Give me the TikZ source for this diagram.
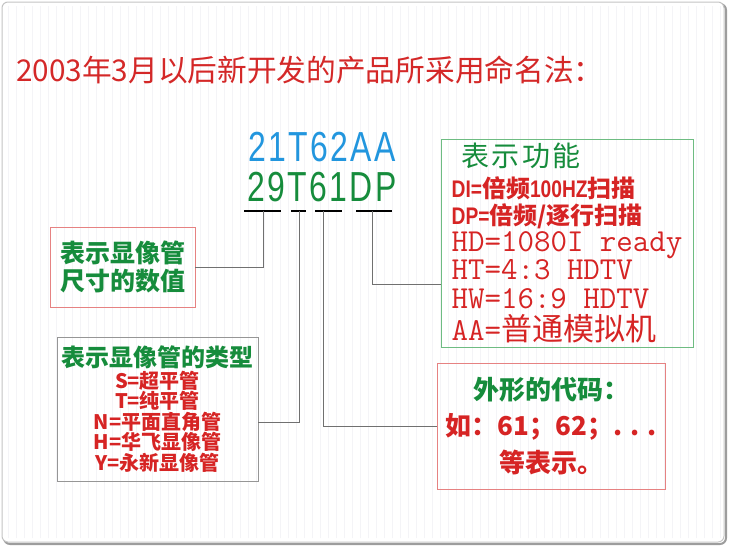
\documentclass[tikz,border=0pt]{standalone}
\usepackage{fontspec}
\setmainfont{Noto Sans CJK SC}
\newfontfamily\titlefont{Noto Sans CJK SC}[FakeStretch=0.99]
\newfontfamily\widefont{Noto Sans CJK SC}[LetterSpace=8]
\newfontfamily\codefont{Liberation Sans}[FakeStretch=0.76,LetterSpace=5.5]
\newfontfamily\narrowfont{Liberation Sans}[FakeStretch=0.8]
\definecolor{ctitle}{RGB}{212,40,40}
\definecolor{cred}{RGB}{214,36,36}
\definecolor{cgreen}{RGB}{22,140,60}
\definecolor{cblue}{RGB}{34,150,222}
\definecolor{cpink}{RGB}{230,130,130}
\definecolor{cframe}{RGB}{196,196,196}
\definecolor{cgrid}{RGB}{244,244,247}
\begin{document}
\begin{tikzpicture}[x=1pt,y=-1pt,
	link/.style={draw={rgb,255:red,112;green,112;blue,112},line width=1pt},
	uline/.style={line width=2pt,black},
	code/.style={inner sep=0pt,font=\codefont\fontsize{42}{42}\selectfont},
	sizebox/.style={draw=cpink,line width=.9pt,minimum width=145pt,minimum height=80pt,inner sep=0pt,align=center,text=cgreen,font=\bfseries\fontsize{25}{28}\selectfont},
	typebox/.style={draw={rgb,255:red,150;green,150;blue,150},line width=.9pt,minimum width=201pt,minimum height=144pt,inner sep=0pt,align=center,text=cred,font=\bfseries\fontsize{20}{20.5}\selectfont},
	funcbox/.style={draw={rgb,255:red,110;green,188;blue,130},line width=.9pt,minimum width=252pt,minimum height=208pt,inner sep=0pt,align=left,text=cred,font=\fontsize{24}{28}\selectfont},
	shapebox/.style={draw=cpink,line width=.9pt,minimum width=228pt,minimum height=126pt,inner sep=0pt,align=center,text=cred,font=\bfseries\fontsize{26}{36.5}\selectfont}]
	\useasboundingbox (0,0) rectangle (730,547);
	\draw[rounded corners=6pt,line width=2pt,cframe!80!black] (4,4) rectangle (726,544);
	\draw[rounded corners=6pt,line width=1pt,cframe,fill=white] (2,2) rectangle (724,542);
	\draw[step=8,cgrid,line width=.4pt] (6,6) grid (720,538);
	\node[anchor=west,inner sep=0pt,text=ctitle,font=\titlefont\fontsize{30}{30}\selectfont] (title) at (16,70) {2003年3月以后新开发的产品所采用命名法：};
	\node[code,text=cblue] (old) at (322,147) {21T62AA};
	\node[code,text=cgreen] (new) at (322,187) {29T61DP};
	\draw[uline] (244,211) -- (281,211);
	\draw[uline] (291,211) -- (306,211);
	\draw[uline] (315,211) -- (342,211);
	\draw[uline] (356,211) -- (392,211);
	\coordinate (u1) at (263,211);
	\coordinate (u2) at (299,211);
	\coordinate (u3) at (323,211);
	\coordinate (u4) at (372,211);
	\node[sizebox] (size) at (122.5,267) {表示显像管\\尺寸的数值};
	\node[typebox] (type) at (157.5,409) {{\color{cgreen}\fontsize{24}{24}\selectfont 表示显像管的类型}\\[1.5pt]
		S=超平管\\T=纯平管\\N=平面直角管\\H=华飞显像管\\Y=永新显像管};
	\node[funcbox] (func) at (567,243) {\hspace*{10pt}{\color{cgreen}\widefont\fontsize{28}{28}\selectfont 表示功能}\\[2.6pt]
		{\bfseries{\narrowfont DI=}倍频{\narrowfont 100HZ}扫描}\\[-1pt]
		{\bfseries{\narrowfont DP=}倍频/逐行扫描}\\[-.6pt]
		{\ttfamily\fontsize{32}{28}\selectfont HD=1080I ready}\\[.2pt]
		{\ttfamily\fontsize{32}{28}\selectfont HT=4:3 HDTV}\\[1pt]
		{\ttfamily\fontsize{32}{28}\selectfont HW=16:9 HDTV}\\[4pt]
		{\fontsize{31}{28}\selectfont{\ttfamily\fontsize{32}{28}\selectfont AA=}普通模拟机}};
	\node[shapebox] (shape) at (551,426) {{\color{cgreen}外形的代码：}\\如：61；62；. . .\\等表示。};
	\draw[link] (u1) |- (size.east);
	\draw[link] (u2) |- ([yshift=-13pt]type.east);
	\draw[link] (u3) |- (shape.west);
	\draw[link] (u4) |- ([yshift=-41pt]func.west);
\end{tikzpicture}
\end{document}
